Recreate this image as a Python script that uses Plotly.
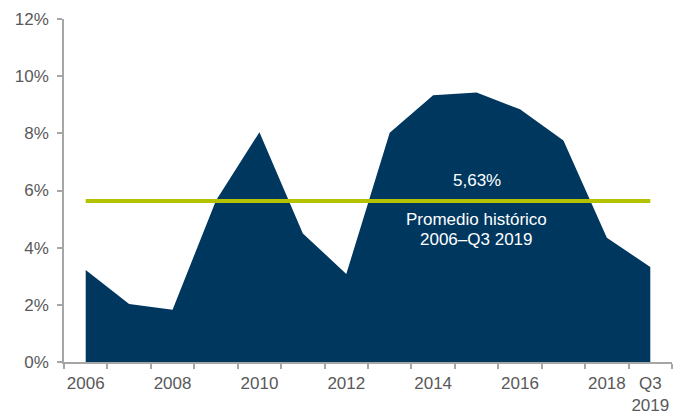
import plotly.graph_objects as go

categories = ["2006", "2007", "2008", "2009", "2010", "2011", "2012", "2013",
              "2014", "2015", "2016", "2017", "2018", "Q3 2019"]
values = [3.22, 2.03, 1.83, 5.65, 8.04, 4.5, 3.08, 8.02, 9.33, 9.43, 8.84, 7.75, 4.35, 3.32]
average = 5.63
tick_labels = ["2006", "", "2008", "", "2010", "", "2012", "", "2014", "", "2016", "", "2018", "Q3<br>2019"]
y_ticks = [0, 2, 4, 6, 8, 10, 12]
y_tick_labels = ["0%", "2%", "4%", "6%", "8%", "10%", "12%"]

navy = "#00375F"
green = "#B5C200"
axis_gray = "#A6A6A6"
text_gray = "#595959"
font_family = "Arial"

fig = go.Figure()
fig.add_trace(go.Scatter(
    x=categories, y=values, mode="lines", fill="tozeroy",
    fillcolor=navy, line=dict(width=0, color=navy), hoverinfo="skip"))
fig.add_trace(go.Scatter(
    x=categories, y=[average] * len(categories), mode="lines",
    line=dict(width=4, color=green), hoverinfo="skip"))

fig.add_annotation(x=9, y=average, yshift=21, text="5,63%", showarrow=False,
                   font=dict(color="white", size=17, family=font_family))
fig.add_annotation(x=9, y=average, yshift=-18, text="Promedio histórico", showarrow=False,
                   font=dict(color="white", size=17, family=font_family))
fig.add_annotation(x=9, y=average, yshift=-38, text="2006–Q3 2019", showarrow=False,
                   font=dict(color="white", size=17, family=font_family))

fig.update_layout(
    width=673, height=412,
    margin=dict(l=64, r=1, t=19, b=50),
    plot_bgcolor="white", paper_bgcolor="white",
    showlegend=False,
    font=dict(family=font_family, size=17, color=text_gray),
)
fig.update_xaxes(
    type="category", range=[-0.5, 13.5],
    tickmode="array", tickvals=categories, ticktext=tick_labels,
    tickson="boundaries", ticks="outside", ticklen=5, tickcolor=axis_gray, tickwidth=1.5,
    showline=True, linecolor=axis_gray, linewidth=1.5, showgrid=False,
    tickfont=dict(size=17, color=text_gray, family=font_family), tickangle=0,
    ticklabelstandoff=5, automargin=False,
)
fig.update_yaxes(
    range=[0, 12], tickmode="array", tickvals=y_ticks, ticktext=y_tick_labels,
    ticks="outside", ticklen=5, tickcolor=axis_gray, tickwidth=1.5,
    showline=True, linecolor=axis_gray, linewidth=1.5, showgrid=False, zeroline=False,
    tickfont=dict(size=17, color=text_gray, family=font_family),
    ticklabelstandoff=5, automargin=False,
)

fig.write_html("out.html", config={"displayModeBar": False},
               post_script="document.body.style.margin='0';")
